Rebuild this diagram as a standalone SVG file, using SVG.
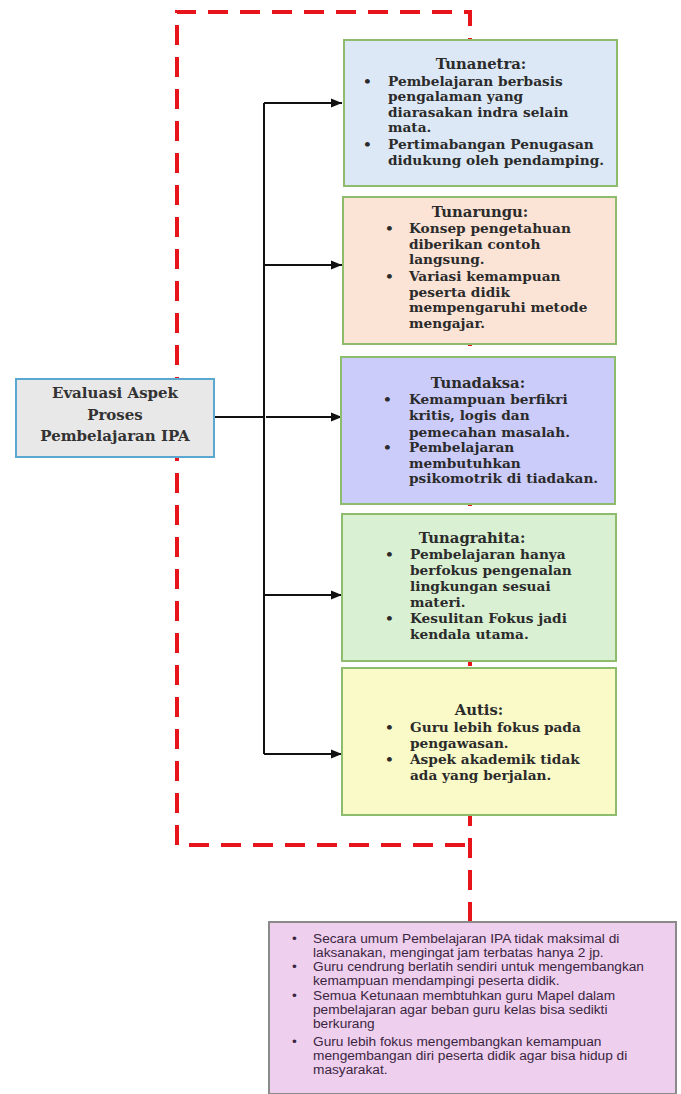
<svg xmlns="http://www.w3.org/2000/svg" width="681" height="1094" viewBox="0 0 681 1094">
<defs>
<marker id="arr" viewBox="0 0 10 10" refX="10" refY="5" markerWidth="5.5" markerHeight="5.5" orient="auto" markerUnits="strokeWidth"><path d="M0,1 L10,5 L0,9 z" fill="#111"/></marker>
<style>
.dash{fill:none;stroke:#e8141c;stroke-width:4;stroke-dasharray:20 12}
.conn{fill:none;stroke:#111;stroke-width:2}
.box{stroke:#8cbc6c;stroke-width:2}
.t{font-family:"DejaVu Serif","Liberation Serif",serif;font-weight:bold;font-size:13.7px;fill:#2b2b2b}
.ttl{text-anchor:middle;font-size:14.8px}
.ev{font-size:15px;fill:#333}
.b{font-family:"Liberation Sans",Arial,sans-serif;font-size:13.7px;fill:#3b2640}
</style>
</defs>
<rect width="681" height="1094" fill="#fff"/>
<g id="frame">
<path class="dash" d="M470,922 L470,12 L177,12 L177,845 L470,845"/>
</g>
<g id="connectors">
<path class="conn" d="M214,417 L264,417"/>
<path class="conn" d="M264,103 L264,754"/>
<path class="conn" d="M264,103 L342,103" marker-end="url(#arr)"/>
<path class="conn" d="M264,265 L342,265" marker-end="url(#arr)"/>
<path class="conn" d="M266,417 L342,417" marker-end="url(#arr)"/>
<path class="conn" d="M264,595 L342,595" marker-end="url(#arr)"/>
<path class="conn" d="M264,754 L342,754" marker-end="url(#arr)"/>
</g>
<g id="evaluasi">
<rect x="16" y="379" width="198" height="78" fill="#e8e8e8" stroke="#5aa8d0" stroke-width="2"/>
<text class="t ttl ev" x="115" y="398">Evaluasi Aspek</text>
<text class="t ttl ev" x="115" y="420">Proses</text>
<text class="t ttl ev" x="115" y="441">Pembelajaran IPA</text>
</g>
<g id="tunanetra">
<rect class="box" x="344" y="40" width="273" height="146" fill="#dce8f5"/>
<text class="t ttl" x="481" y="69">Tunanetra:</text>
<text class="t" x="363" y="86">•</text>
<text class="t" x="388" y="86">Pembelajaran berbasis</text>
<text class="t" x="388" y="101">pengalaman yang</text>
<text class="t" x="388" y="117">diarasakan indra selain</text>
<text class="t" x="388" y="132">mata.</text>
<text class="t" x="363" y="149">•</text>
<text class="t" x="388" y="149">Pertimabangan Penugasan</text>
<text class="t" x="388" y="165">didukung oleh pendamping.</text>
</g>
<g id="tunarungu">
<rect class="box" x="343" y="197" width="273" height="147" fill="#fbe3d6"/>
<text class="t ttl" x="480" y="217">Tunarungu:</text>
<text class="t" x="385" y="233">•</text>
<text class="t" x="409" y="233">Konsep pengetahuan</text>
<text class="t" x="409" y="249">diberikan contoh</text>
<text class="t" x="409" y="264">langsung.</text>
<text class="t" x="385" y="281">•</text>
<text class="t" x="409" y="281">Variasi kemampuan</text>
<text class="t" x="409" y="297">peserta didik</text>
<text class="t" x="409" y="312">mempengaruhi metode</text>
<text class="t" x="409" y="328">mengajar.</text>
</g>
<g id="tunadaksa">
<rect class="box" x="341" y="357" width="274" height="147" fill="#ccccfa"/>
<text class="t ttl" x="478" y="388">Tunadaksa:</text>
<text class="t" x="383" y="404">•</text>
<text class="t" x="409" y="404">Kemampuan berfikri</text>
<text class="t" x="409" y="420">kritis, logis dan</text>
<text class="t" x="409" y="437">pemecahan masalah.</text>
<text class="t" x="383" y="452">•</text>
<text class="t" x="409" y="452">Pembelajaran</text>
<text class="t" x="409" y="468">membutuhkan</text>
<text class="t" x="409" y="483">psikomotrik di tiadakan.</text>
</g>
<g id="tunagrahita">
<rect class="box" x="342" y="514" width="274" height="147" fill="#d9f0d3"/>
<text class="t ttl" x="472" y="543">Tunagrahita:</text>
<text class="t" x="385" y="559">•</text>
<text class="t" x="410" y="559">Pembelajaran hanya</text>
<text class="t" x="410" y="575">berfokus pengenalan</text>
<text class="t" x="410" y="591">lingkungan sesuai</text>
<text class="t" x="410" y="607">materi.</text>
<text class="t" x="385" y="623">•</text>
<text class="t" x="410" y="623">Kesulitan Fokus jadi</text>
<text class="t" x="410" y="639">kendala utama.</text>
</g>
<g id="autis">
<rect class="box" x="342" y="668" width="274" height="147" fill="#fafac8"/>
<text class="t ttl" x="479" y="715">Autis:</text>
<text class="t" x="385" y="732">•</text>
<text class="t" x="410" y="732">Guru lebih fokus pada</text>
<text class="t" x="410" y="748">pengawasan.</text>
<text class="t" x="385" y="764">•</text>
<text class="t" x="410" y="764">Aspek akademik tidak</text>
<text class="t" x="410" y="780">ada yang berjalan.</text>
</g>
<g id="kesimpulan">
<rect x="269" y="922" width="407" height="172" fill="#eecfee" stroke="#8a8a8a" stroke-width="2"/>
<text class="b" x="292" y="943">•</text>
<text class="b" x="313" y="943">Secara umum Pembelajaran IPA tidak maksimal di</text>
<text class="b" x="313" y="957">laksanakan, mengingat jam terbatas hanya 2 jp.</text>
<text class="b" x="292" y="971">•</text>
<text class="b" x="313" y="971">Guru cendrung berlatih sendiri untuk mengembangkan</text>
<text class="b" x="313" y="985">kemampuan mendampingi peserta didik.</text>
<text class="b" x="292" y="1000">•</text>
<text class="b" x="313" y="1000">Semua Ketunaan membtuhkan guru Mapel dalam</text>
<text class="b" x="313" y="1014">pembelajaran agar beban guru kelas bisa sedikti</text>
<text class="b" x="313" y="1028">berkurang</text>
<text class="b" x="292" y="1046">•</text>
<text class="b" x="313" y="1046">Guru lebih fokus mengembangkan kemampuan</text>
<text class="b" x="313" y="1060">mengembangan diri peserta didik agar bisa hidup di</text>
<text class="b" x="313" y="1074">masyarakat.</text>
</g>
</svg>
